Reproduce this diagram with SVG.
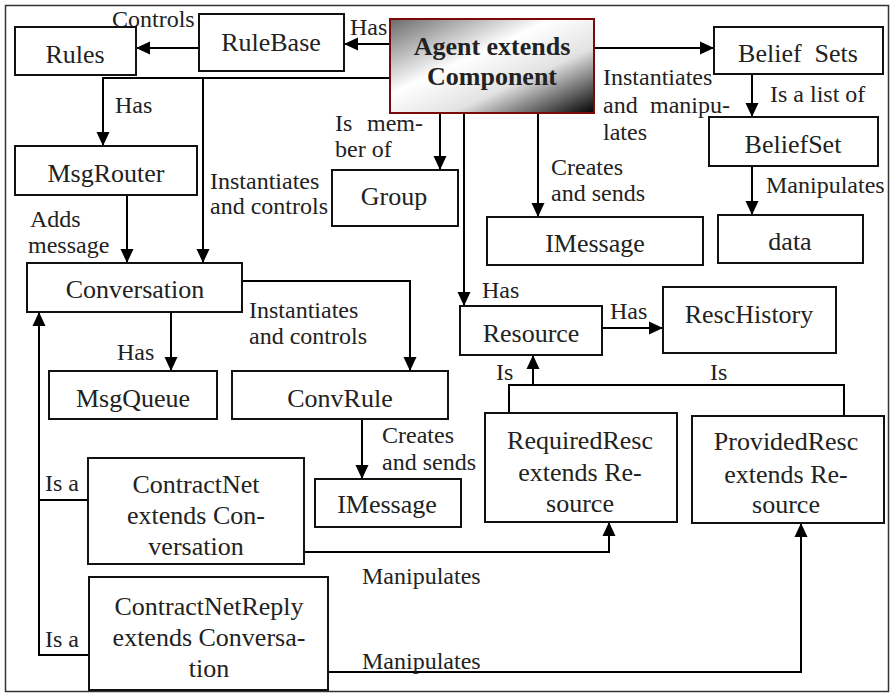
<svg xmlns="http://www.w3.org/2000/svg" width="892" height="695" viewBox="0 0 892 695">
<defs>
<marker id="arr" markerUnits="userSpaceOnUse" markerWidth="14" markerHeight="14" refX="14" refY="7" orient="auto">
<path d="M0,0.5 L14,7 L0,13.5 z" fill="#000"/>
</marker>
<linearGradient id="ag" x1="0" y1="0" x2="1" y2="1">
<stop offset="0" stop-color="#6a6a6a"/>
<stop offset="0.4" stop-color="#ffffff"/>
<stop offset="0.65" stop-color="#e2e2e2"/>
<stop offset="1" stop-color="#000000"/>
</linearGradient>
<style>
.b{fill:#fff;stroke:#111;stroke-width:2}
.n{font-family:"Liberation Serif","Times New Roman",serif;font-size:26px;fill:#222;text-anchor:middle}
.l{font-family:"Liberation Serif","Times New Roman",serif;font-size:24px;fill:#222}
.c{fill:none;stroke:#000;stroke-width:2}
.a{marker-end:url(#arr)}
</style>
</defs>
<rect x="5.5" y="5.5" width="883" height="686" fill="#fff" stroke="#333" stroke-width="1.5"/>
<g id="connectors">
<path class="c a" d="M390,44 L344,44"/>
<path class="c a" d="M199,48 L136,48"/>
<path class="c a" d="M390,78 L103,78 L103,146"/>
<path class="c a" d="M203,78 L203,263"/>
<path class="c a" d="M127,195 L127,263"/>
<path class="c a" d="M440,113 L440,170"/>
<path class="c a" d="M464,113 L464,306"/>
<path class="c a" d="M538,113 L538,217"/>
<path class="c a" d="M594,48 L714,48"/>
<path class="c a" d="M752,74 L752,117"/>
<path class="c a" d="M752,166 L752,215"/>
<path class="c a" d="M242,281 L410,281 L410,371"/>
<path class="c a" d="M171,312 L171,371"/>
<path class="c a" d="M362,419 L362,479"/>
<path class="c a" d="M602,328 L663,328"/>
<path class="c" d="M509,413 L509,385 L844,385 L844,416"/>
<path class="c a" d="M533,385 L533,355"/>
<path class="c a" d="M89,655 L39,655 L39,312"/>
<path class="c" d="M88,500 L39,500"/>
<path class="c a" d="M304,552 L609,552 L609,522"/>
<path class="c a" d="M328,672 L801,672 L801,523"/>
</g>
<g id="labels">
<text class="l" x="112" y="27">Controls</text>
<text class="l" x="350" y="35">Has</text>
<text class="l" x="115" y="113">Has</text>
<text class="l" x="210" y="189">Instantiates</text>
<text class="l" x="210" y="214">and controls</text>
<text class="l" x="30" y="227">Adds</text>
<text class="l" x="28" y="253">message</text>
<text class="l" x="335" y="131">Is</text>
<text class="l" x="423" y="131" text-anchor="end">mem-</text>
<text class="l" x="335" y="157">ber of</text>
<text class="l" x="551" y="175">Creates</text>
<text class="l" x="551" y="201">and sends</text>
<text class="l" x="603" y="85">Instantiates</text>
<text class="l" x="603" y="113">and</text>
<text class="l" x="730" y="113" text-anchor="end">manipu-</text>
<text class="l" x="603" y="140">lates</text>
<text class="l" x="770" y="102">Is a list of</text>
<text class="l" x="766" y="193">Manipulates</text>
<text class="l" x="482" y="298">Has</text>
<text class="l" x="249" y="318">Instantiates</text>
<text class="l" x="249" y="344">and controls</text>
<text class="l" x="117" y="360">Has</text>
<text class="l" x="382" y="443">Creates</text>
<text class="l" x="382" y="470">and sends</text>
<text class="l" x="610" y="319">Has</text>
<text class="l" x="496" y="380">Is</text>
<text class="l" x="710" y="380">Is</text>
<text class="l" x="45" y="491">Is a</text>
<text class="l" x="45" y="647">Is a</text>
<text class="l" x="362" y="584">Manipulates</text>
<text class="l" x="362" y="669">Manipulates</text>
</g>
<g id="Rules"><rect class="b" x="15" y="27" width="121" height="48"/><text class="n" x="75" y="63">Rules</text></g>
<g id="RuleBase"><rect class="b" x="199" y="14" width="145" height="57"/><text class="n" x="271" y="51">RuleBase</text></g>
<g id="Agent"><rect x="390" y="19" width="204" height="94" fill="url(#ag)" stroke="#7a0a0a" stroke-width="2"/><text class="n" x="492" y="55" font-weight="bold">Agent extends</text><text class="n" x="492" y="85" font-weight="bold">Component</text></g>
<g id="BeliefSets"><rect class="b" x="714" y="27" width="169" height="47"/><text class="n" x="798" y="62" style="white-space:pre">Belief  Sets</text></g>
<g id="BeliefSet"><rect class="b" x="709" y="117" width="169" height="49"/><text class="n" x="793" y="153">BeliefSet</text></g>
<g id="data"><rect class="b" x="718" y="215" width="145" height="48"/><text class="n" x="790" y="250">data</text></g>
<g id="MsgRouter"><rect class="b" x="15" y="146" width="182" height="49"/><text class="n" x="106" y="182">MsgRouter</text></g>
<g id="Group"><rect class="b" x="332" y="170" width="126" height="56"/><text class="n" x="394" y="205">Group</text></g>
<g id="IMessage1"><rect class="b" x="487" y="217" width="216" height="48"/><text class="n" x="595" y="252">IMessage</text></g>
<g id="Conversation"><rect class="b" x="27" y="263" width="215" height="49"/><text class="n" x="135" y="298">Conversation</text></g>
<g id="Resource"><rect class="b" x="460" y="306" width="142" height="49"/><text class="n" x="531" y="342">Resource</text></g>
<g id="RescHistory"><rect class="b" x="663" y="287" width="173" height="66"/><text class="n" x="749" y="323">RescHistory</text></g>
<g id="MsgQueue"><rect class="b" x="49" y="371" width="168" height="48"/><text class="n" x="133" y="407">MsgQueue</text></g>
<g id="ConvRule"><rect class="b" x="232" y="371" width="216" height="48"/><text class="n" x="340" y="407">ConvRule</text></g>
<g id="IMessage2"><rect class="b" x="315" y="479" width="146" height="48"/><text class="n" x="387" y="513">IMessage</text></g>
<g id="RequiredResc"><rect class="b" x="485" y="413" width="192" height="109"/><text class="n" x="580" y="449">RequiredResc</text><text class="n" x="580" y="481">extends Re-</text><text class="n" x="580" y="512">source</text></g>
<g id="ProvidedResc"><rect class="b" x="692" y="416" width="192" height="107"/><text class="n" x="786" y="450">ProvidedResc</text><text class="n" x="786" y="483">extends Re-</text><text class="n" x="786" y="513">source</text></g>
<g id="ContractNet"><rect class="b" x="88" y="458" width="216" height="106"/><text class="n" x="196" y="493">ContractNet</text><text class="n" x="196" y="524">extends Con-</text><text class="n" x="196" y="555">versation</text></g>
<g id="ContractNetReply"><rect class="b" x="89" y="577" width="239" height="113"/><text class="n" x="209" y="615">ContractNetReply</text><text class="n" x="209" y="646">extends Conversa-</text><text class="n" x="209" y="677">tion</text></g>
</svg>
